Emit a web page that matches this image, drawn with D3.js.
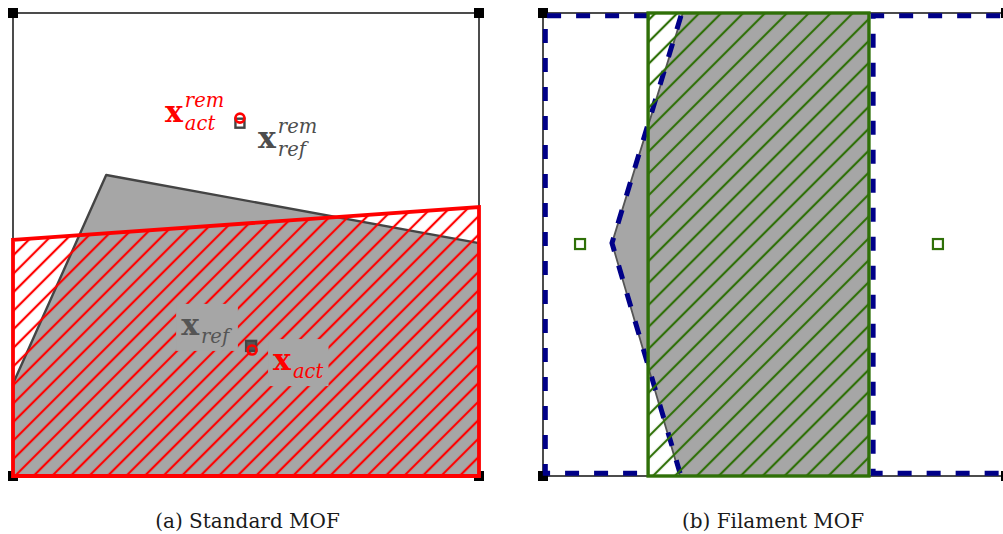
<!DOCTYPE html>
<html>
<head>
<meta charset="utf-8">
<script src="https://cdn.jsdelivr.net/npm/d3@7"></script>
<style>
  body { margin: 0; background: #fff; }
  svg { display: block; }
</style>
</head>
<body>
<svg id="fig" width="1003" height="534"></svg>
<script>
// ---- Panel (a): standard MOF, unit-cell coordinates ----
const refPolygonA = [[0.200, 0.650], [1.000, 0.503], [1.000, 0.000], [0.000, 0.000], [0.000, 0.199]];
const actPolygonA = [[0.000, 0.510], [1.000, 0.581], [1.000, 0.000], [0.000, 0.000]];
const refCentroidA = [0.511, 0.281];
const actCentroidA = [0.513, 0.272];
const refRemCentroidA = [0.487, 0.762];
const actRemCentroidA = [0.487, 0.773];
const cellCornersA = [[0, 0], [1, 0], [0, 1], [1, 1]];

// ---- Panel (b): filament MOF, unit-cell coordinates ----
const refPolygonB = [[0.302, 1.000], [0.704, 1.000], [0.704, 0.000], [0.296, 0.000], [0.149, 0.503]];
const filamentB = [[0.227, 0.000], [0.704, 1.000]];          // [x0,y0],[x1,y1]
const interfaceLeftB = [[0.227, 0.994], [0.005, 0.994], [0.005, 0.006], [0.227, 0.006]];
const interfaceRightB = [[1.050, 0.994], [0.713, 0.994], [0.713, 0.006], [1.050, 0.006]];
const interfaceRefB = [[0.298, 0.994], [0.149, 0.503], [0.296, 0.006]];
const filamentCentroidsB = [[0.080, 0.501], [0.853, 0.501]];
const cellCornersB = [[0, 0], [1, 0], [0, 1], [1, 1]];

const captions = ["(a) Standard MOF", "(b) Filament MOF"];

const svg = d3.select("#fig");
const defs = svg.append("defs");

function hatch(id, color, spacing, width) {
  const p = defs.append("pattern")
    .attr("id", id)
    .attr("patternUnits", "userSpaceOnUse")
    .attr("width", spacing).attr("height", spacing)
    .attr("patternTransform", "rotate(45)");
  p.append("line")
    .attr("x1", spacing / 2).attr("y1", -1)
    .attr("x2", spacing / 2).attr("y2", spacing + 1)
    .attr("stroke", color).attr("stroke-width", width);
}
hatch("hatchRed", "#ff0000", 13.1, 2.2);
hatch("hatchGreen", "#2f7008", 15.5, 2.2);

const GRAY = "#a6a6a6";
const RED = "#ff0000";
const GREEN = "#2f7008";
const NAVY = "#000088";

// scales for each panel
const xA = d3.scaleLinear().domain([0, 1]).range([13, 479]);
const yA = d3.scaleLinear().domain([0, 1]).range([476, 13]);
const xB = d3.scaleLinear().domain([0, 1]).range([543, 1006]);
const yB = d3.scaleLinear().domain([0, 1]).range([476, 13]);

const lineA = d3.line().x(d => xA(d[0])).y(d => yA(d[1]));
const lineB = d3.line().x(d => xB(d[0])).y(d => yB(d[1]));

// bold x with italic super/subscripts
function mathLabel(g, x, y, sup, sub, color, bg) {
  const grp = g.append("g");
  const bgRect = grp.append("rect");
  const base = grp.append("text")
    .attr("x", x).attr("y", y)
    .attr("font-family", "DejaVu Serif").attr("font-weight", "bold")
    .attr("font-size", 30).attr("fill", color).text("x");
  const w = base.node().getComputedTextLength();
  if (sup) grp.append("text")
    .attr("x", x + w + 2).attr("y", y - 15)
    .attr("font-family", "DejaVu Serif").attr("font-style", "italic")
    .attr("font-size", 19.5).attr("fill", color).text(sup);
  if (sub) grp.append("text")
    .attr("x", x + w + 2).attr("y", y + 8)
    .attr("font-family", "DejaVu Serif").attr("font-style", "italic")
    .attr("font-size", 19.5).attr("fill", color).text(sub);
  if (bg) {
    const b = grp.node().getBBox();
    bgRect.attr("x", b.x - 5).attr("y", b.y - 3)
      .attr("width", b.width + 10).attr("height", b.height + 6)
      .attr("fill", bg);
  } else bgRect.remove();
}

function squareMarker(g, x, y, size, stroke, fill, sw) {
  g.append("rect")
    .attr("x", x - size / 2).attr("y", y - size / 2)
    .attr("width", size).attr("height", size)
    .attr("fill", fill).attr("stroke", stroke).attr("stroke-width", sw);
}

// ================= Panel (a) =================
const gA = svg.append("g");

gA.append("rect")
  .attr("x", xA(0)).attr("y", yA(1))
  .attr("width", xA(1) - xA(0)).attr("height", yA(0) - yA(1))
  .attr("fill", "none").attr("stroke", "#000").attr("stroke-width", 1.4);

cellCornersA.forEach(c => squareMarker(gA, xA(c[0]), yA(c[1]), 10, "none", "#000", 0));

// reference material polygon
gA.append("path").attr("d", lineA(refPolygonA) + "Z")
  .attr("fill", GRAY).attr("stroke", "#444").attr("stroke-width", 2.4)
  .attr("stroke-linejoin", "round");

// actual reconstructed polygon, hatched
gA.append("path").attr("d", lineA(actPolygonA) + "Z")
  .attr("fill", "url(#hatchRed)").attr("stroke", "none");
gA.append("path").attr("d", lineA(actPolygonA) + "Z")
  .attr("fill", "none").attr("stroke", RED).attr("stroke-width", 3.8)
  .attr("stroke-linejoin", "miter");

// labels
mathLabel(gA, xA(actRemCentroidA[0]) - 75, yA(actRemCentroidA[1]) + 4, "rem", "act", RED, null);
mathLabel(gA, xA(refRemCentroidA[0]) + 18, yA(refRemCentroidA[1]) + 25, "rem", "ref", "#4d4d4d", null);
mathLabel(gA, xA(refCentroidA[0]) - 70, yA(refCentroidA[1]) - 11, null, "ref", "#555555", GRAY);
mathLabel(gA, xA(actCentroidA[0]) + 21, yA(actCentroidA[1]) + 20, null, "act", RED, GRAY);

// centroid markers
squareMarker(gA, xA(refRemCentroidA[0]), yA(refRemCentroidA[1]), 9, "#444", "none", 2.4);
gA.append("circle").attr("cx", xA(actRemCentroidA[0])).attr("cy", yA(actRemCentroidA[1]))
  .attr("r", 4.5).attr("fill", "none").attr("stroke", RED).attr("stroke-width", 2.6);
squareMarker(gA, xA(refCentroidA[0]), yA(refCentroidA[1]), 10, "#444", "#555", 2.4);
gA.append("circle").attr("cx", xA(actCentroidA[0])).attr("cy", yA(actCentroidA[1]))
  .attr("r", 4.5).attr("fill", "none").attr("stroke", RED).attr("stroke-width", 2.6);

// ================= Panel (b) =================
const gB = svg.append("g");

gB.append("rect")
  .attr("x", xB(0)).attr("y", yB(1))
  .attr("width", xB(1) - xB(0)).attr("height", yB(0) - yB(1))
  .attr("fill", "none").attr("stroke", "#000").attr("stroke-width", 1.4);
cellCornersB.forEach(c => squareMarker(gB, xB(c[0]), yB(c[1]), 10, "none", "#000", 0));

// interface of the cell (dashed)
[interfaceLeftB, interfaceRightB].forEach(seg => {
  gB.append("path").attr("d", lineB(seg))
    .attr("fill", "none").attr("stroke", NAVY).attr("stroke-width", 5)
    .attr("stroke-dasharray", "14 15");
});

// reference material polygon
gB.append("path").attr("d", lineB(refPolygonB) + "Z")
  .attr("fill", GRAY).attr("stroke", "#555").attr("stroke-width", 1.8);

gB.append("path").attr("d", lineB(interfaceRefB))
  .attr("fill", "none").attr("stroke", NAVY).attr("stroke-width", 5)
  .attr("stroke-dasharray", "14 15");

// filament (hatched)
const fx = xB(filamentB[0][0]), fw = xB(filamentB[1][0]) - fx;
const fy = yB(filamentB[1][1]), fh = yB(filamentB[0][1]) - fy;
gB.append("rect").attr("x", fx).attr("y", fy).attr("width", fw).attr("height", fh)
  .attr("fill", "url(#hatchGreen)");
gB.append("rect").attr("x", fx).attr("y", fy).attr("width", fw).attr("height", fh)
  .attr("fill", "none").attr("stroke", GREEN).attr("stroke-width", 3.4);

filamentCentroidsB.forEach(c => squareMarker(gB, xB(c[0]), yB(c[1]), 10, GREEN, "#fff", 2.2));

// ================= Captions =================
svg.selectAll("text.caption").data(captions).join("text")
  .attr("class", "caption")
  .attr("x", (d, i) => i === 0 ? 247.5 : 773)
  .attr("y", 528)
  .attr("text-anchor", "middle")
  .attr("font-family", "DejaVu Serif")
  .attr("font-size", 20)
  .attr("fill", "#1a1a1a")
  .text(d => d);
</script>
</body>
</html>
